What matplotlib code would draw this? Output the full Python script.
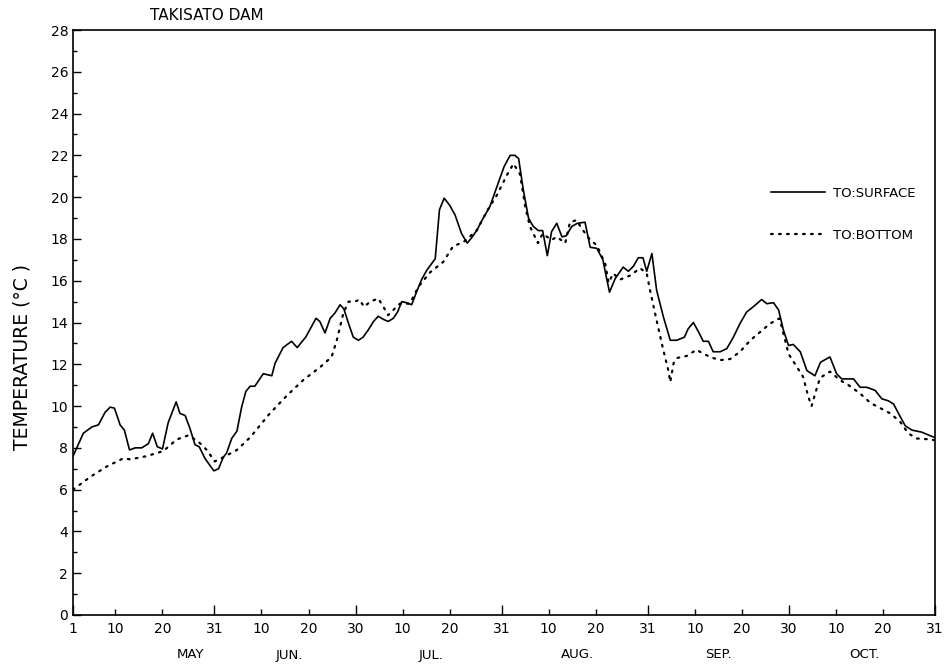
import matplotlib
matplotlib.use("Agg")
import matplotlib.pyplot as plt
from matplotlib.ticker import MultipleLocator

# Day offset from May 1 (0 = May 1, 183 = Oct 31)
surface_day = [0, 2.2, 4, 5.4, 6.8, 7.9, 8.8, 10, 10.9, 12, 13.2, 14.6, 16, 16.9, 17.9, 19, 20.2, 21.9, 22.7,
               23.8, 24.8, 25.9, 26.8, 28, 29.9, 30.9, 31.9, 32.6, 33.7, 34.8, 35.8, 36.7, 37.6, 38.6, 40.4,
               42.2, 42.9, 44.6, 46.4, 47.6, 49.4, 51.6, 52.4, 53.5, 54.6, 55.6, 56.7, 57.5, 58.5, 59.5, 60.6,
               61.6, 62.7, 63.8, 64.8, 65.9, 66.9, 68, 68.9, 69.8, 70.8, 71.9, 73, 74, 75.1, 76.9, 77.8, 78.8,
               80, 81.1, 82.5, 83.7, 84.6, 85.7, 87.1, 88.5, 90, 91.5, 92.8, 93.8, 94.6, 95.6, 96.7, 97.7,
               98.8, 99.7, 100.7, 101.6, 102.7, 103.8, 104.7, 105.9, 107.1, 108.7, 109.8, 111.2, 112.5, 113.2,
               113.9, 115.1, 116.8, 117.9, 119, 120, 121, 121.8, 122.9, 123.9, 125.3, 126.8, 128.2, 129.8,
               130.6, 131.7, 132.8, 133.8, 134.9, 135.9, 137.4, 138.8, 140.2, 141.6, 143, 144.4, 146.2, 147.3,
               148.7, 149.8, 150.8, 151.9, 152.9, 154.4, 155.8, 157.5, 158.7, 160.7, 162.1, 163.2, 165.7,
               167.1, 168.5, 170.3, 171.7, 173.1, 174.2, 175.6, 176.7, 178.1, 180.2, 182.3, 183]
surface_temp = [7.6, 8.7, 9.0, 9.1, 9.7, 9.95, 9.9, 9.1, 8.85, 7.9, 8.0, 8.0, 8.2, 8.7, 8.05, 7.95, 9.2, 10.2, 9.65,
                9.55, 8.95, 8.15, 8.05, 7.5, 6.9, 7.0, 7.55, 7.75, 8.45, 8.8, 9.95, 10.7, 10.95, 10.95, 11.55,
                11.45, 12.05, 12.8, 13.1, 12.8, 13.3, 14.2, 14.05, 13.5, 14.2, 14.45, 14.85, 14.65, 13.95, 13.3, 13.15,
                13.3, 13.65, 14.05, 14.3, 14.15, 14.05, 14.2, 14.5, 15.0, 14.95, 14.85, 15.5, 16.05, 16.5, 17.05, 19.4, 19.95,
                19.6, 19.15, 18.25, 17.8, 18.05, 18.4, 19.0, 19.55, 20.5, 21.45, 22.0, 22.0, 21.85, 20.35, 19.0, 18.6,
                18.4, 18.4, 17.2, 18.35, 18.75, 18.1, 18.15, 18.6, 18.75, 18.8, 17.6, 17.55, 17.0, 16.2,
                15.45, 16.1, 16.65, 16.45, 16.7, 17.1, 17.1, 16.45, 17.3, 15.55, 14.3, 13.15, 13.15, 13.3,
                13.7, 14.0, 13.55, 13.1, 13.1, 12.6, 12.6, 12.75, 13.3, 13.95, 14.5, 14.75, 15.1, 14.9,
                14.95, 14.6, 13.65, 12.9, 12.95, 12.6, 11.7, 11.45, 12.1, 12.35, 11.55, 11.3, 11.3,
                10.9, 10.9, 10.75, 10.35, 10.25, 10.1, 9.5, 9.05, 8.85, 8.75, 8.55, 8.5]

bottom_day = [0, 3.6, 7.1, 10.7, 12.1, 15.6, 19.2, 22, 24.5, 26.6, 28.4, 30.1, 31.9, 34.8, 37.6, 41.8, 45.4, 48.9,
              52.4, 54.9, 56, 57.4, 58.5, 59.9, 60.8, 61.8, 63.1, 64.8, 65.9, 66.9, 68, 69.4, 71.5, 73.3, 75.8,
              78.6, 80.7, 82.9, 85.7, 87.8, 90, 92.1, 93.5, 94.9, 96, 97, 98.7, 99.7, 101.6, 102.7, 104.5, 105.5,
              106.9, 108, 109.8, 111.2, 113, 113.7, 114.7, 116.1, 118.3, 120.4, 121.8, 122.5, 123.9, 125.3,
              126.4, 126.8, 127.5, 128.2, 130.3, 132.4, 133.8, 135.9, 137.4, 139.5, 141.6, 143.8, 145.9, 148,
              150, 150.8, 151.9, 153.6, 155, 156.1, 156.8, 157.5, 158.6, 160.7, 162.8, 165, 167.1, 169.3,
              171.4, 173.5, 175.6, 177.3, 179.1, 182.3, 183]
bottom_temp = [6.0, 6.6, 7.1, 7.5, 7.45, 7.6, 7.85, 8.4, 8.6, 8.3, 7.9, 7.35, 7.55, 7.9, 8.5, 9.65, 10.5, 11.25,
               11.85, 12.35, 13.15, 14.45, 15.0, 15.0, 15.1, 14.75, 15.0, 15.15, 14.75, 14.35, 14.6, 14.9, 14.9, 15.7, 16.4,
               16.9, 17.65, 17.85, 18.4, 19.3, 20.1, 21.05, 21.6, 21.1, 19.55, 18.6, 17.8, 18.25, 17.95, 18.1, 17.8, 18.8,
               18.9, 18.5, 17.95, 17.7, 16.8, 15.9, 16.35, 16.05, 16.25, 16.6, 16.35, 15.55, 14.1, 12.7,
               11.7, 11.15, 12.05, 12.3, 12.4, 12.7, 12.5, 12.3, 12.2, 12.25, 12.6, 13.15, 13.55, 13.95,
               14.2, 13.5, 12.5, 11.9, 11.4, 10.45, 10.0, 10.55, 11.35, 11.65, 11.25, 10.95, 10.6, 10.15,
               9.9, 9.65, 9.25, 8.7, 8.45, 8.4, 8.35]

month_end_ticks = [0, 30, 60, 91, 122, 152, 183]
month_end_labels = ["1", "31", "30", "31", "31", "30", "31"]
mid_ticks = [9, 19, 40, 50, 70, 80, 101, 111, 132, 142, 162, 172]
mid_labels = ["10", "20"] * 6
month_names = ["MAY", "JUN.", "JUL.", "AUG.", "SEP.", "OCT."]
month_label_pos = [25, 46, 76, 107, 137, 168]

fig = plt.figure(figsize=(9.45, 6.65), dpi=100)
ax = fig.add_axes([73 / 945, 1 - 615 / 665, 862 / 945, 585 / 665])

ax.plot(surface_day, surface_temp, color="black", lw=1.2, label="TO:SURFACE")
ax.plot(bottom_day, bottom_temp, color="black", lw=1.6, linestyle=(0, (0.8, 2.8)),
        dash_capstyle="round", label="TO:BOTTOM")

ax.set_xlim(0, 183)
ax.set_ylim(0, 28)
ax.yaxis.set_major_locator(MultipleLocator(2))
ax.yaxis.set_minor_locator(MultipleLocator(1))
ax.tick_params(axis="y", which="major", direction="in", length=6, width=1, labelsize=10)
ax.tick_params(axis="y", which="minor", direction="in", length=3, width=1)

ax.set_xticks(month_end_ticks)
ax.set_xticklabels(month_end_labels)
ax.set_xticks(mid_ticks, minor=True)
ax.set_xticklabels(mid_labels, minor=True)
ax.tick_params(axis="x", which="major", direction="in", length=7, width=1, labelsize=10, pad=5)
ax.tick_params(axis="x", which="minor", direction="in", length=4, width=1, labelsize=10, pad=5)

for sp in ax.spines.values():
    sp.set_linewidth(1.2)

for pos, name in zip(month_label_pos, month_names):
    ax.text(pos, -40 / 585, name, transform=ax.get_xaxis_transform(), ha="center", va="center", fontsize=9.5)

fig.text(150 / 945, 1 - 15 / 665, "TAKISATO DAM", ha="left", va="center", fontsize=11)
fig.text(22 / 945, 1 - 357 / 665, "TEMPERATURE (°C )", rotation=90, ha="center", va="center", fontsize=13.5)

ax.legend(loc="upper right", bbox_to_anchor=(0.985, 0.743), frameon=False, fontsize=9.5,
          handlelength=4.1, handletextpad=0.6, labelspacing=2.2, borderpad=0)

fig.savefig("out.png", dpi=100)
